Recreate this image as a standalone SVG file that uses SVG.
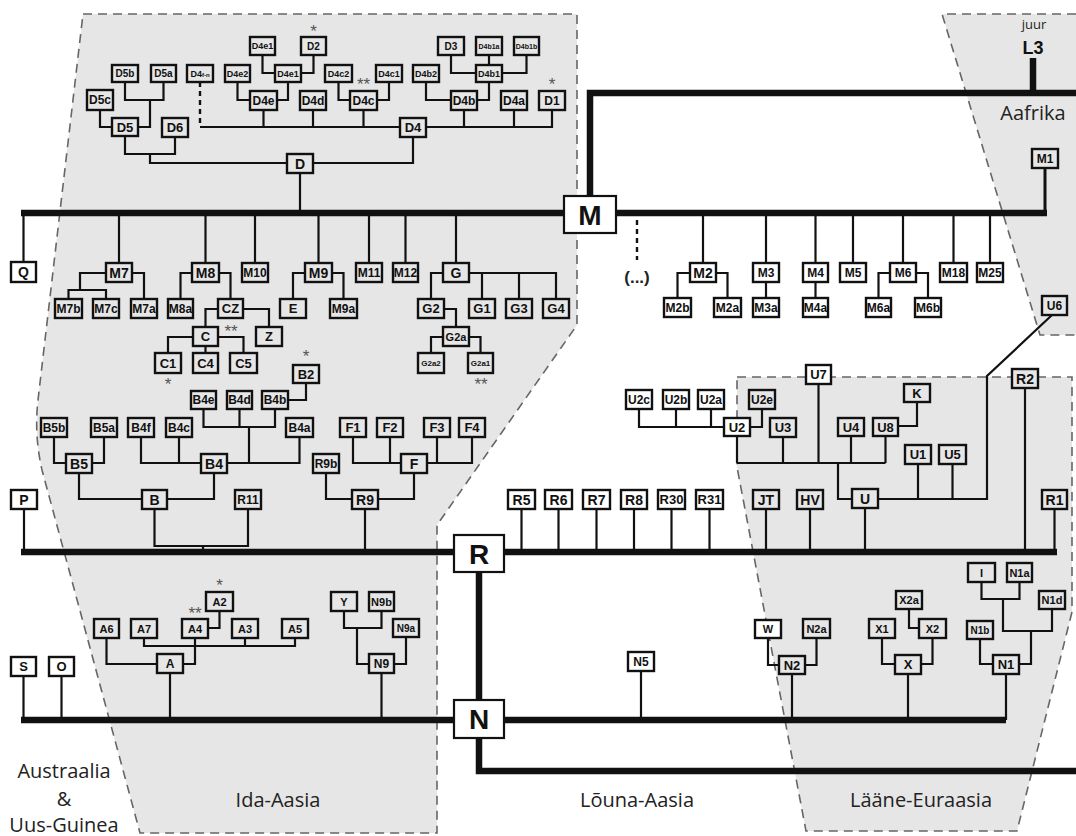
<svg xmlns="http://www.w3.org/2000/svg" width="1076" height="836" viewBox="0 0 1076 836">
<style>
.rg{fill:#e6e6e6;stroke:none}
.rb{fill:none;stroke:#666;stroke-width:1.6;stroke-dasharray:9 6}
.b rect{fill:#e6e6e6;stroke:#111;stroke-width:2.4}
.w rect{fill:#fff}
.big rect{stroke-width:2.2}
.b text{font-family:"Liberation Sans",Arial,sans-serif;font-weight:bold;text-anchor:middle;fill:#111}
.c path{fill:none;stroke:#111;stroke-width:2.2}
.c path.t{stroke-width:6.5}
.c path.m{stroke-width:3}
.c path.d{stroke-dasharray:5 4;stroke-width:2.4}
.lbl{font-family:"Open Sans","Liberation Sans",sans-serif;font-size:20px;fill:#222;text-anchor:middle}
.st{font-family:"Liberation Sans",Arial,sans-serif;font-size:17px;fill:#555;text-anchor:middle}
</style>
<g id="regions">
<path class="rg" d="M83,14 H577 V325 L437,525 V833 H140 L42,470 Q34,435 38,400 Z"/>
<path class="rb" d="M83,14 H577 V325 L437,525 V833 H140 L42,470 Q34,435 38,400 Z"/>
<path class="rg" d="M942,14 H1076 V335 H1040 Z"/>
<path class="rb" d="M1076,14 H942 L1040,335 H1076"/>
<path class="rg" d="M737,377 H1072 V612 L1017,831 H806 L737,467 Z"/>
<path class="rb" d="M737,377 H1072 V612 L1017,831 H806 L737,467 Z"/>
</g>
<g id="connectors" class="c">
<path class="t" d="M1033,58 V93"/>
<path class="t" d="M590,196 V93 H1076"/>
<path class="t" d="M21,213 H1047"/>
<path class="m" d="M1045,213 V168"/>
<path class="t" d="M21,552 H1057"/>
<path class="t" d="M479,572 V700"/>
<path class="t" d="M21,720 H1006"/>
<path class="t" d="M479,738 V771 H1076"/>
<path d="M300,173 V213"/>
<path d="M125,136 V154 H175 V137"/>
<path d="M150,154 V163 H287"/>
<path d="M313,163 H413 V137"/>
<path d="M100,110 V127 H112"/>
<path d="M138,127 H150 V100"/>
<path d="M125,82 V100 H163.5 V82"/>
<path d="M200,127 H400"/>
<path d="M426,127 H552 V110"/>
<path class="d" d="M200,82 V127"/>
<path d="M263.5,110 V127"/>
<path d="M313,110 V127"/>
<path d="M363.5,110 V127"/>
<path d="M464,110 V127"/>
<path d="M514,110 V127"/>
<path d="M237.5,82 V100 H250"/>
<path d="M277,100 H288 V82"/>
<path d="M262.5,55 V73 H275"/>
<path d="M313.5,55 V73 H301"/>
<path d="M338.5,82 V100 H350"/>
<path d="M377,100 H389 V82"/>
<path d="M426,82 V100 H451"/>
<path d="M477,100 H489 V82"/>
<path d="M451,55 V73 H476"/>
<path d="M489,55 V65"/>
<path d="M502,73 H526.5 V55"/>
<path d="M23.5,213 V262"/>
<path d="M119,213 V263"/>
<path d="M106,273 H80 V290"/>
<path d="M68.5,299 V290 H106 V299"/>
<path d="M132,273 H144 V299"/>
<path d="M205.5,213 V263"/>
<path d="M192,273 H180.5 V299"/>
<path d="M219,273 H230.5 V299"/>
<path d="M218,309 H205.5 V327"/>
<path d="M243,309 H269 V327"/>
<path d="M193,337 H168 V353"/>
<path d="M205.5,346 V353"/>
<path d="M218,337 H243.5 V353"/>
<path d="M255,213 V263"/>
<path d="M318.5,213 V263"/>
<path d="M305,273 H293 V299"/>
<path d="M332,273 H343.5 V299"/>
<path d="M369,213 V263"/>
<path d="M405.5,213 V263"/>
<path d="M456,213 V263"/>
<path d="M443,273 H431 V299"/>
<path d="M469,273 H556 V299"/>
<path d="M482,273 V299"/>
<path d="M519,273 V299"/>
<path d="M444,309 H456 V327"/>
<path d="M443,337 H431 V353"/>
<path d="M469,337 H480.5 V353"/>
<path class="d" d="M637,220 V260"/>
<path d="M703,213 V263"/>
<path d="M690,273 H677.5 V298"/>
<path d="M716,273 H727.5 V298"/>
<path d="M766,213 V263"/>
<path d="M766,282 V298"/>
<path d="M815.5,213 V263"/>
<path d="M815.5,282 V298"/>
<path d="M853,213 V263"/>
<path d="M903,213 V263"/>
<path d="M890,273 H878.5 V298"/>
<path d="M916,273 H928 V298"/>
<path d="M953.5,213 V263"/>
<path d="M990,213 V263"/>
<path d="M24,509 V552"/>
<path d="M154.5,509 V546 H248 V509"/>
<path d="M203,546 V552"/>
<path d="M142,499 H79 V473"/>
<path d="M167,499 H214 V473"/>
<path d="M66,463 H54 V437"/>
<path d="M92,463 H104 V437"/>
<path d="M201,463 H141 V437"/>
<path d="M179,437 V463"/>
<path d="M227,463 H299.5 V437"/>
<path d="M249,463 V427"/>
<path d="M203.5,409 V427 H275 V409"/>
<path d="M239.5,409 V427"/>
<path d="M288,400 H306 V383"/>
<path d="M365,509 V552"/>
<path d="M352,499 H326 V473"/>
<path d="M378,499 H414 V473"/>
<path d="M401,463 H353 V437"/>
<path d="M390,437 V463"/>
<path d="M427,463 H472 V437"/>
<path d="M437,437 V463"/>
<path d="M521.5,509 V552"/>
<path d="M558.5,509 V552"/>
<path d="M596.5,509 V552"/>
<path d="M634,509 V552"/>
<path d="M671.5,509 V552"/>
<path d="M709.5,509 V552"/>
<path d="M766,509 V552"/>
<path d="M810,509 V552"/>
<path d="M865,508 V552"/>
<path d="M852,499 H838 V463"/>
<path d="M737,463 H885.5"/>
<path d="M737,436 V463"/>
<path d="M783,437 V463"/>
<path d="M818.5,384 V463"/>
<path d="M851,436 V463"/>
<path d="M885.5,436 V463"/>
<path d="M898,426 H917 V402"/>
<path d="M724,427 H639 V409"/>
<path d="M676,409 V427"/>
<path d="M711,409 V427"/>
<path d="M750,427 H762 V409"/>
<path d="M1052,315 L987,376 V499 H878"/>
<path d="M918,464 V499"/>
<path d="M952.5,464 V499"/>
<path d="M1025,388 V552"/>
<path d="M1054.5,509 V552"/>
<path d="M23.5,676 V720"/>
<path d="M61.5,676 V720"/>
<path d="M170,673 V720"/>
<path d="M157,664 H106.5 V638"/>
<path d="M183,664 H195 V638"/>
<path d="M144,638 V646 H295 V638"/>
<path d="M245,638 V646"/>
<path d="M208,628 H219.5 V611"/>
<path d="M381.5,673 V720"/>
<path d="M369,664 H357 V628"/>
<path d="M344,611 V628 H381.5 V611"/>
<path d="M394,664 H406 V637"/>
<path d="M641,671 V720"/>
<path d="M792,674 V720"/>
<path d="M779,665 H768 V638"/>
<path d="M805,665 H816.5 V638"/>
<path d="M908,674 V720"/>
<path d="M895,664 H882 V638"/>
<path d="M921,664 H932.5 V638"/>
<path d="M919,628 H909 V609"/>
<path d="M1006,674 V720"/>
<path d="M993,664 H980 V639"/>
<path d="M1019,664 H1031 V631"/>
<path d="M1003,599 V631 H1052 V609"/>
<path d="M981.5,582 V599 H1019.5 V582"/>
</g>
<g id="nodes">
<g id="n-D" class="b"><rect x="287" y="154" width="26" height="19"/><text x="300" y="168.5" font-size="14">D</text></g>
<g id="n-D4" class="b"><rect x="400" y="118" width="26" height="19"/><text x="413" y="132.2" font-size="13">D4</text></g>
<g id="n-D5" class="b"><rect x="112" y="118" width="26" height="18"/><text x="125" y="131.7" font-size="13">D5</text></g>
<g id="n-D6" class="b"><rect x="162" y="118" width="26" height="19"/><text x="175" y="132.2" font-size="13">D6</text></g>
<g id="n-D5c" class="b"><rect x="87" y="90" width="26" height="20"/><text x="100" y="104.3" font-size="12">D5c</text></g>
<g id="n-D5b" class="b"><rect x="112" y="65" width="26" height="17"/><text x="125" y="77.1" font-size="10">D5b</text></g>
<g id="n-D5a" class="b"><rect x="151" y="65" width="25" height="17"/><text x="163.5" y="77.1" font-size="10">D5a</text></g>
<g id="n-D4fn" class="b"><rect x="187" y="65" width="26" height="17"/><text x="200" y="76.6" font-size="9">D4<tspan font-size="6">f-n</tspan></text></g>
<g id="n-D4e" class="b"><rect x="250" y="91" width="27" height="19"/><text x="263.5" y="104.8" font-size="12">D4e</text></g>
<g id="n-D4e2" class="b"><rect x="225" y="65" width="25" height="17"/><text x="237.5" y="76.7" font-size="9">D4e2</text></g>
<g id="n-D4e1" class="b"><rect x="275" y="65" width="26" height="17"/><text x="288" y="76.7" font-size="9">D4e1</text></g>
<g id="n-D4e1-up" class="b"><rect x="250" y="37" width="25" height="18"/><text x="262.5" y="49.2" font-size="9">D4e1</text></g>
<g id="n-D2" class="b"><rect x="301" y="37" width="25" height="18"/><text x="313.5" y="49.6" font-size="10">D2</text></g>
<g id="n-D4d" class="b"><rect x="300" y="91" width="26" height="19"/><text x="313" y="104.8" font-size="12">D4d</text></g>
<g id="n-D4c" class="b"><rect x="350" y="91" width="27" height="19"/><text x="363.5" y="104.8" font-size="12">D4c</text></g>
<g id="n-D4c2" class="b"><rect x="325" y="65" width="27" height="17"/><text x="338.5" y="76.7" font-size="9">D4c2</text></g>
<g id="n-D4c1" class="b"><rect x="376" y="65" width="26" height="17"/><text x="389" y="76.7" font-size="9">D4c1</text></g>
<g id="n-D4b2" class="b"><rect x="413" y="65" width="26" height="17"/><text x="426" y="76.7" font-size="9">D4b2</text></g>
<g id="n-D4b" class="b"><rect x="451" y="91" width="26" height="19"/><text x="464" y="104.8" font-size="12">D4b</text></g>
<g id="n-D4b1" class="b"><rect x="476" y="65" width="26" height="17"/><text x="489" y="76.7" font-size="9">D4b1</text></g>
<g id="n-D3" class="b"><rect x="438" y="37" width="26" height="18"/><text x="451" y="49.6" font-size="10">D3</text></g>
<g id="n-D4b1a" class="b"><rect x="476" y="37" width="26" height="18"/><text x="489" y="48.5" font-size="7">D4b1a</text></g>
<g id="n-D4b1b" class="b"><rect x="514" y="37" width="25" height="18"/><text x="526.5" y="48.5" font-size="7">D4b1b</text></g>
<g id="n-D4a" class="b"><rect x="501" y="91" width="26" height="19"/><text x="514" y="104.8" font-size="12">D4a</text></g>
<g id="n-D1" class="b"><rect x="539" y="91" width="26" height="19"/><text x="552" y="104.8" font-size="12">D1</text></g>

<g id="n-Q" class="b w"><rect x="11" y="262" width="25" height="20"/><text x="23.5" y="277" font-size="14">Q</text></g>
<g id="n-M7" class="b"><rect x="106" y="263" width="26" height="19"/><text x="119" y="277.5" font-size="14">M7</text></g>
<g id="n-M7b" class="b"><rect x="55" y="299" width="27" height="19"/><text x="68.5" y="312.8" font-size="12">M7b</text></g>
<g id="n-M7c" class="b"><rect x="93" y="299" width="26" height="19"/><text x="106" y="312.8" font-size="12">M7c</text></g>
<g id="n-M7a" class="b"><rect x="131" y="299" width="26" height="19"/><text x="144" y="312.8" font-size="12">M7a</text></g>
<g id="n-M8" class="b"><rect x="192" y="263" width="27" height="19"/><text x="205.5" y="277.5" font-size="14">M8</text></g>
<g id="n-M8a" class="b"><rect x="168" y="299" width="25" height="19"/><text x="180.5" y="312.8" font-size="12">M8a</text></g>
<g id="n-CZ" class="b"><rect x="218" y="299" width="25" height="19"/><text x="230.5" y="313.2" font-size="13">CZ</text></g>
<g id="n-C" class="b"><rect x="193" y="327" width="25" height="19"/><text x="205.5" y="341.2" font-size="13">C</text></g>
<g id="n-Z" class="b"><rect x="256" y="327" width="26" height="19"/><text x="269" y="341.2" font-size="13">Z</text></g>
<g id="n-C1" class="b"><rect x="155" y="353" width="26" height="20"/><text x="168" y="367.7" font-size="13">C1</text></g>
<g id="n-C4" class="b"><rect x="193" y="353" width="25" height="20"/><text x="205.5" y="367.7" font-size="13">C4</text></g>
<g id="n-C5" class="b"><rect x="230" y="353" width="27" height="20"/><text x="243.5" y="367.7" font-size="13">C5</text></g>
<g id="n-M10" class="b"><rect x="242" y="263" width="26" height="19"/><text x="255" y="276.8" font-size="12">M10</text></g>
<g id="n-M9" class="b"><rect x="305" y="263" width="27" height="19"/><text x="318.5" y="277.5" font-size="14">M9</text></g>
<g id="n-E" class="b"><rect x="280" y="299" width="26" height="19"/><text x="293" y="313.2" font-size="13">E</text></g>
<g id="n-M9a" class="b"><rect x="330" y="299" width="27" height="19"/><text x="343.5" y="312.8" font-size="12">M9a</text></g>
<g id="n-M11" class="b"><rect x="356" y="263" width="26" height="19"/><text x="369" y="276.8" font-size="12">M11</text></g>
<g id="n-M12" class="b"><rect x="393" y="263" width="25" height="19"/><text x="405.5" y="276.8" font-size="12">M12</text></g>
<g id="n-G" class="b"><rect x="443" y="263" width="26" height="19"/><text x="456" y="277.5" font-size="14">G</text></g>
<g id="n-G2" class="b"><rect x="418" y="299" width="26" height="19"/><text x="431" y="313.2" font-size="13">G2</text></g>
<g id="n-G1" class="b"><rect x="469" y="299" width="26" height="19"/><text x="482" y="313.2" font-size="13">G1</text></g>
<g id="n-G3" class="b"><rect x="506" y="299" width="26" height="19"/><text x="519" y="313.2" font-size="13">G3</text></g>
<g id="n-G4" class="b"><rect x="543" y="299" width="26" height="19"/><text x="556" y="313.2" font-size="13">G4</text></g>
<g id="n-G2a" class="b"><rect x="443" y="327" width="26" height="19"/><text x="456" y="340.5" font-size="11">G2a</text></g>
<g id="n-G2a2" class="b"><rect x="418" y="353" width="26" height="20"/><text x="431" y="365.9" font-size="8">G2a2</text></g>
<g id="n-G2a1" class="b"><rect x="468" y="353" width="25" height="20"/><text x="480.5" y="365.9" font-size="8">G2a1</text></g>

<g id="n-M" class="b w big"><rect x="564" y="196" width="52" height="37"/><text x="590" y="224.6" font-size="28">M</text></g>
<g id="n-M2" class="b w"><rect x="690" y="263" width="26" height="19"/><text x="703" y="277.5" font-size="14">M2</text></g>
<g id="n-M2b" class="b w"><rect x="664" y="298" width="27" height="19"/><text x="677.5" y="311.8" font-size="12">M2b</text></g>
<g id="n-M2a" class="b w"><rect x="714" y="298" width="27" height="19"/><text x="727.5" y="311.8" font-size="12">M2a</text></g>
<g id="n-M3" class="b w"><rect x="753" y="263" width="26" height="19"/><text x="766" y="276.8" font-size="12">M3</text></g>
<g id="n-M3a" class="b w"><rect x="753" y="298" width="26" height="19"/><text x="766" y="311.8" font-size="12">M3a</text></g>
<g id="n-M4" class="b w"><rect x="803" y="263" width="25" height="19"/><text x="815.5" y="276.8" font-size="12">M4</text></g>
<g id="n-M4a" class="b w"><rect x="803" y="298" width="25" height="19"/><text x="815.5" y="311.8" font-size="12">M4a</text></g>
<g id="n-M5" class="b w"><rect x="840" y="263" width="26" height="19"/><text x="853" y="276.8" font-size="12">M5</text></g>
<g id="n-M6" class="b w"><rect x="890" y="263" width="26" height="19"/><text x="903" y="276.8" font-size="12">M6</text></g>
<g id="n-M6a" class="b w"><rect x="866" y="298" width="25" height="19"/><text x="878.5" y="311.8" font-size="12">M6a</text></g>
<g id="n-M6b" class="b w"><rect x="915" y="298" width="26" height="19"/><text x="928" y="311.8" font-size="12">M6b</text></g>
<g id="n-M18" class="b w"><rect x="940" y="263" width="27" height="19"/><text x="953.5" y="276.8" font-size="12">M18</text></g>
<g id="n-M25" class="b w"><rect x="977" y="263" width="26" height="19"/><text x="990" y="276.8" font-size="12">M25</text></g>
<g id="n-M1" class="b"><rect x="1032" y="149" width="26" height="19"/><text x="1045" y="162.8" font-size="12">M1</text></g>
<g id="n-U6" class="b"><rect x="1042" y="296" width="25" height="19"/><text x="1054.5" y="309.8" font-size="12">U6</text></g>

<g id="n-P" class="b w"><rect x="11" y="490" width="26" height="19"/><text x="24" y="504.5" font-size="14">P</text></g>
<g id="n-B" class="b"><rect x="142" y="490" width="25" height="19"/><text x="154.5" y="504.5" font-size="14">B</text></g>
<g id="n-R11" class="b"><rect x="235" y="490" width="26" height="19"/><text x="248" y="503.8" font-size="12">R11</text></g>
<g id="n-B5" class="b"><rect x="66" y="454" width="26" height="19"/><text x="79" y="468.5" font-size="14">B5</text></g>
<g id="n-B5b" class="b"><rect x="41" y="418" width="26" height="19"/><text x="54" y="431.8" font-size="12">B5b</text></g>
<g id="n-B5a" class="b"><rect x="91" y="418" width="26" height="19"/><text x="104" y="431.8" font-size="12">B5a</text></g>
<g id="n-B4" class="b"><rect x="201" y="454" width="26" height="19"/><text x="214" y="468.5" font-size="14">B4</text></g>
<g id="n-B4f" class="b"><rect x="128" y="418" width="26" height="19"/><text x="141" y="431.8" font-size="12">B4f</text></g>
<g id="n-B4c" class="b"><rect x="166" y="418" width="26" height="19"/><text x="179" y="431.8" font-size="12">B4c</text></g>
<g id="n-B4e" class="b"><rect x="191" y="391" width="25" height="18"/><text x="203.5" y="404.3" font-size="12">B4e</text></g>
<g id="n-B4d" class="b"><rect x="227" y="391" width="25" height="18"/><text x="239.5" y="404.3" font-size="12">B4d</text></g>
<g id="n-B4b" class="b"><rect x="262" y="391" width="26" height="18"/><text x="275" y="404.3" font-size="12">B4b</text></g>
<g id="n-B2" class="b"><rect x="293" y="365" width="26" height="18"/><text x="306" y="378.7" font-size="13">B2</text></g>
<g id="n-B4a" class="b"><rect x="286" y="418" width="27" height="19"/><text x="299.5" y="431.8" font-size="12">B4a</text></g>
<g id="n-R9" class="b"><rect x="352" y="490" width="26" height="19"/><text x="365" y="504.5" font-size="14">R9</text></g>
<g id="n-R9b" class="b"><rect x="313" y="454" width="26" height="19"/><text x="326" y="467.8" font-size="12">R9b</text></g>
<g id="n-F" class="b"><rect x="401" y="454" width="26" height="19"/><text x="414" y="468.5" font-size="14">F</text></g>
<g id="n-F1" class="b"><rect x="340" y="418" width="26" height="19"/><text x="353" y="432.2" font-size="13">F1</text></g>
<g id="n-F2" class="b"><rect x="377" y="418" width="26" height="19"/><text x="390" y="432.2" font-size="13">F2</text></g>
<g id="n-F3" class="b"><rect x="424" y="418" width="26" height="19"/><text x="437" y="432.2" font-size="13">F3</text></g>
<g id="n-F4" class="b"><rect x="459" y="418" width="26" height="19"/><text x="472" y="432.2" font-size="13">F4</text></g>

<g id="n-R" class="b w big"><rect x="454" y="535" width="50" height="37"/><text x="479" y="563.6" font-size="28">R</text></g>
<g id="n-R5" class="b w"><rect x="508" y="490" width="27" height="19"/><text x="521.5" y="504.5" font-size="14">R5</text></g>
<g id="n-R6" class="b w"><rect x="545" y="490" width="27" height="19"/><text x="558.5" y="504.5" font-size="14">R6</text></g>
<g id="n-R7" class="b w"><rect x="583" y="490" width="27" height="19"/><text x="596.5" y="504.5" font-size="14">R7</text></g>
<g id="n-R8" class="b w"><rect x="621" y="490" width="26" height="19"/><text x="634" y="504.5" font-size="14">R8</text></g>
<g id="n-R30" class="b w"><rect x="658" y="490" width="27" height="19"/><text x="671.5" y="504.2" font-size="13">R30</text></g>
<g id="n-R31" class="b w"><rect x="696" y="490" width="27" height="19"/><text x="709.5" y="504.2" font-size="13">R31</text></g>
<g id="n-JT" class="b"><rect x="753" y="490" width="26" height="19"/><text x="766" y="504.5" font-size="14">JT</text></g>
<g id="n-HV" class="b"><rect x="797" y="490" width="26" height="19"/><text x="810" y="504.5" font-size="14">HV</text></g>
<g id="n-U" class="b"><rect x="852" y="489" width="26" height="19"/><text x="865" y="503.5" font-size="14">U</text></g>
<g id="n-U2" class="b w"><rect x="724" y="418" width="26" height="18"/><text x="737" y="431.7" font-size="13">U2</text></g>
<g id="n-U2c" class="b w"><rect x="626" y="390" width="26" height="19"/><text x="639" y="403.8" font-size="12">U2c</text></g>
<g id="n-U2b" class="b w"><rect x="663" y="390" width="26" height="19"/><text x="676" y="403.8" font-size="12">U2b</text></g>
<g id="n-U2a" class="b w"><rect x="698" y="390" width="26" height="19"/><text x="711" y="403.8" font-size="12">U2a</text></g>
<g id="n-U2e" class="b"><rect x="749" y="390" width="26" height="19"/><text x="762" y="403.8" font-size="12">U2e</text></g>
<g id="n-U3" class="b"><rect x="770" y="418" width="26" height="19"/><text x="783" y="432.2" font-size="13">U3</text></g>
<g id="n-U7" class="b w"><rect x="806" y="365" width="25" height="19"/><text x="818.5" y="379.2" font-size="13">U7</text></g>
<g id="n-U4" class="b"><rect x="838" y="418" width="26" height="18"/><text x="851" y="431.7" font-size="13">U4</text></g>
<g id="n-U8" class="b"><rect x="873" y="418" width="25" height="18"/><text x="885.5" y="431.7" font-size="13">U8</text></g>
<g id="n-K" class="b"><rect x="904" y="384" width="26" height="18"/><text x="917" y="397.7" font-size="13">K</text></g>
<g id="n-U1" class="b"><rect x="905" y="445" width="26" height="19"/><text x="918" y="459.2" font-size="13">U1</text></g>
<g id="n-U5" class="b"><rect x="939" y="445" width="27" height="19"/><text x="952.5" y="459.2" font-size="13">U5</text></g>
<g id="n-R2" class="b"><rect x="1012" y="369" width="26" height="19"/><text x="1025" y="383.5" font-size="14">R2</text></g>
<g id="n-R1" class="b"><rect x="1042" y="490" width="25" height="19"/><text x="1054.5" y="504.5" font-size="14">R1</text></g>

<g id="n-N" class="b w big"><rect x="454" y="700" width="50" height="38"/><text x="479" y="729.1" font-size="28">N</text></g>
<g id="n-S" class="b w"><rect x="11" y="657" width="25" height="19"/><text x="23.5" y="671.2" font-size="13">S</text></g>
<g id="n-O" class="b w"><rect x="49" y="657" width="25" height="19"/><text x="61.5" y="671.2" font-size="13">O</text></g>
<g id="n-A" class="b"><rect x="157" y="654" width="26" height="19"/><text x="170" y="667.8" font-size="12">A</text></g>
<g id="n-A6" class="b"><rect x="94" y="619" width="25" height="19"/><text x="106.5" y="632.5" font-size="11">A6</text></g>
<g id="n-A7" class="b"><rect x="131" y="619" width="26" height="19"/><text x="144" y="632.5" font-size="11">A7</text></g>
<g id="n-A4" class="b"><rect x="182" y="619" width="26" height="19"/><text x="195" y="632.5" font-size="11">A4</text></g>
<g id="n-A2" class="b"><rect x="206" y="592" width="27" height="19"/><text x="219.5" y="605.5" font-size="11">A2</text></g>
<g id="n-A3" class="b"><rect x="232" y="619" width="26" height="19"/><text x="245" y="632.5" font-size="11">A3</text></g>
<g id="n-A5" class="b"><rect x="282" y="619" width="26" height="19"/><text x="295" y="632.5" font-size="11">A5</text></g>
<g id="n-N9" class="b"><rect x="369" y="654" width="25" height="19"/><text x="381.5" y="667.8" font-size="12">N9</text></g>
<g id="n-Y" class="b"><rect x="331" y="592" width="26" height="19"/><text x="344" y="605.5" font-size="11">Y</text></g>
<g id="n-N9b" class="b"><rect x="369" y="592" width="25" height="19"/><text x="381.5" y="605.5" font-size="11">N9b</text></g>
<g id="n-N9a" class="b"><rect x="393" y="619" width="26" height="18"/><text x="406" y="631.6" font-size="10">N9a</text></g>
<g id="n-N5" class="b w"><rect x="628" y="652" width="26" height="19"/><text x="641" y="665.8" font-size="12">N5</text></g>
<g id="n-W" class="b w"><rect x="755" y="620" width="26" height="18"/><text x="768" y="633" font-size="11">W</text></g>
<g id="n-N2" class="b"><rect x="779" y="656" width="26" height="18"/><text x="792" y="669.7" font-size="13">N2</text></g>
<g id="n-N2a" class="b"><rect x="803" y="619" width="27" height="19"/><text x="816.5" y="632.5" font-size="11">N2a</text></g>
<g id="n-X" class="b"><rect x="895" y="655" width="26" height="19"/><text x="908" y="669.2" font-size="13">X</text></g>
<g id="n-X1" class="b"><rect x="869" y="619" width="26" height="19"/><text x="882" y="632.5" font-size="11">X1</text></g>
<g id="n-X2" class="b"><rect x="919" y="619" width="27" height="19"/><text x="932.5" y="632.5" font-size="11">X2</text></g>
<g id="n-X2a" class="b"><rect x="896" y="591" width="26" height="18"/><text x="909" y="604" font-size="11">X2a</text></g>
<g id="n-N1" class="b"><rect x="993" y="655" width="26" height="19"/><text x="1006" y="669.2" font-size="13">N1</text></g>
<g id="n-N1b" class="b"><rect x="967" y="621" width="26" height="18"/><text x="980" y="633.6" font-size="10">N1b</text></g>
<g id="n-I" class="b"><rect x="968" y="563" width="27" height="19"/><text x="981.5" y="576.5" font-size="11">I</text></g>
<g id="n-N1a" class="b"><rect x="1007" y="563" width="25" height="19"/><text x="1019.5" y="576.5" font-size="11">N1a</text></g>
<g id="n-N1d" class="b"><rect x="1039" y="591" width="26" height="18"/><text x="1052" y="604" font-size="11">N1d</text></g>
</g>
<g id="marks">
<text class="st" x="313.5" y="36.5">*</text>
<text class="st" x="363.5" y="90">**</text>
<text class="st" x="552" y="90">*</text>
<text class="st" x="231" y="337">**</text>
<text class="st" x="168" y="390">*</text>
<text class="st" x="306" y="362">*</text>
<text class="st" x="481" y="390">**</text>
<text class="st" x="219.5" y="591">*</text>
<text class="st" x="195" y="618.5">**</text>
<text x="637" y="283" font-family="Liberation Sans, Arial, sans-serif" font-weight="bold" font-size="17" fill="#222" text-anchor="middle">(...)</text>
</g>
<g id="labels">
<text class="lbl" x="1034" y="29" style="font-size:13px">juur</text>
<text x="1033" y="54" font-family="Liberation Sans, Arial, sans-serif" font-weight="bold" font-size="18" fill="#111" text-anchor="middle">L3</text>
<text class="lbl" x="1033" y="120">Aafrika</text>
<text class="lbl" x="64" y="778">Austraalia</text>
<text class="lbl" x="64" y="806">&amp;</text>
<text class="lbl" x="64" y="832">Uus-Guinea</text>
<text class="lbl" x="278" y="807">Ida-Aasia</text>
<text class="lbl" x="637" y="807">Lõuna-Aasia</text>
<text class="lbl" x="921" y="807">Lääne-Euraasia</text>
</g>
</svg>
